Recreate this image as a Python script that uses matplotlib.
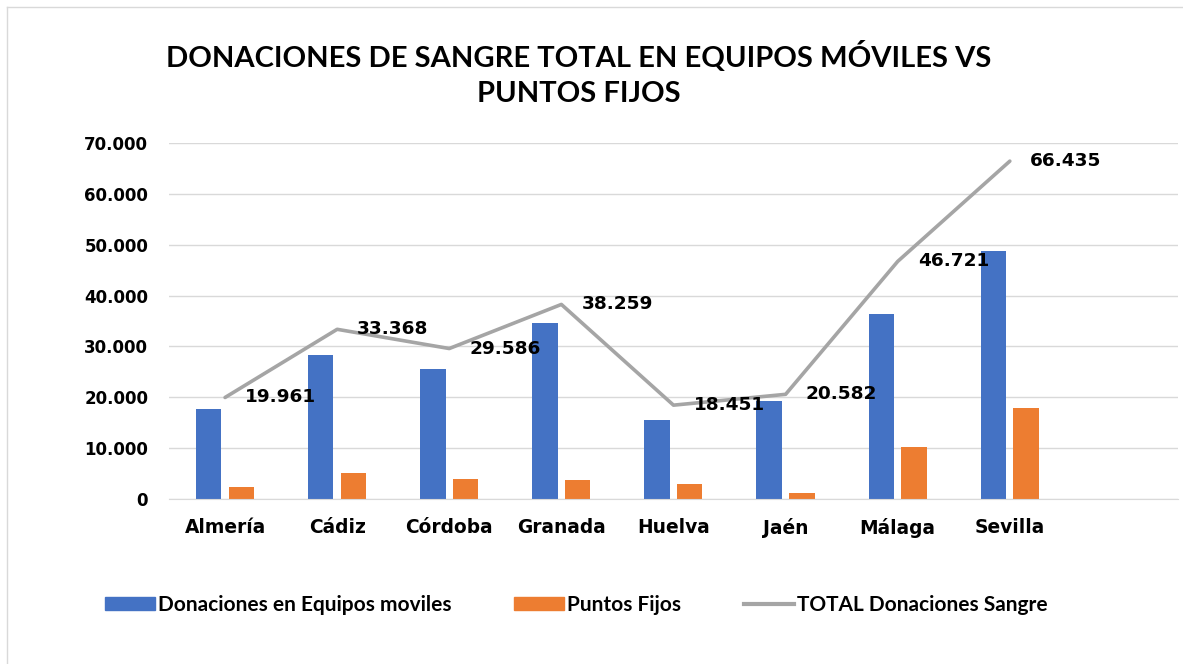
import numpy as np
import matplotlib
matplotlib.use('Agg')
import matplotlib.pyplot as plt
from matplotlib.patches import Patch
from matplotlib.lines import Line2D
from matplotlib.ticker import FuncFormatter

provincias = ['Almería', 'Cádiz', 'Córdoba', 'Granada', 'Huelva', 'Jaén', 'Málaga', 'Sevilla']
moviles = [17600, 28300, 25600, 34600, 15600, 19300, 36400, 48700]
fijos = [2400, 5100, 4000, 3700, 2900, 1200, 10300, 17800]
total = [19961, 33368, 29586, 38259, 18451, 20582, 46721, 66435]
total_txt = ['19.961', '33.368', '29.586', '38.259', '18.451', '20.582', '46.721', '66.435']

azul = '#4472C4'
naranja = '#ED7D31'
gris = '#A5A5A5'

fig = plt.figure(figsize=(11.83, 6.64), dpi=100)
ax = fig.add_axes([169/1183, 1-499/664, (1178-169)/1183, (499-143)/664])

x = np.arange(len(provincias))
w = 0.227
ax.bar(x-0.147, moviles, w, color=azul, zorder=2)
ax.bar(x+0.145, fijos, w, color=naranja, zorder=2)
ax.plot(x, total, color=gris, lw=2.6, solid_capstyle='round', solid_joinstyle='round', zorder=3, clip_on=False)

for xi, yi, t in zip(x, total, total_txt):
    ax.annotate(t, (xi, yi), xytext=(20, 0), textcoords='offset pixels',
                ha='left', va='center', fontsize=13.3, fontweight='bold', color='black',
                family='DejaVu Sans', zorder=4)

ax.set_xlim(-0.5, 8.5)
ax.set_ylim(0, 70000)
ax.set_yticks(np.arange(0, 70001, 10000))
ax.yaxis.set_major_formatter(FuncFormatter(lambda v, p: f'{int(v):,}'.replace(',', '.')))
ax.set_xticks(x)
ax.set_xticklabels(provincias)
ax.tick_params(axis='both', length=0)
ax.tick_params(axis='y', pad=15, labelsize=12)
ax.tick_params(axis='x', pad=14, labelsize=13.4)
for lab in ax.get_xticklabels() + ax.get_yticklabels():
    lab.set_fontweight('bold')
ax.grid(axis='y', color='#D9D9D9', lw=1, zorder=0)
for s in ['top', 'right', 'left']:
    ax.spines[s].set_visible(False)
ax.spines['bottom'].set_color('#D9D9D9')

fig.text(579/1183, 1-74/664, 'DONACIONES DE SANGRE TOTAL EN EQUIPOS MÓVILES VS\nPUNTOS FIJOS',
         ha='center', va='center', fontsize=21, fontweight='bold', family='Lato', linespacing=1.45)

handles = [Patch(color=azul), Patch(color=naranja), Line2D([], [], color=gris, lw=3)]
labels = ['Donaciones en Equipos moviles', 'Puntos Fijos', 'TOTAL Donaciones Sangre']
fig.legend(handles, labels, loc='center', bbox_to_anchor=(576/1183, 1-605/664), ncol=3,
           frameon=False, prop={'family': 'Lato', 'weight': 'bold', 'size': 15},
           handlelength=2.4, handleheight=0.58, handletextpad=0.15, columnspacing=3.0)

fig.add_artist(Line2D([7/1183, 7/1183], [0, 1-7/664], color='#D9D9D9', lw=1))
fig.add_artist(Line2D([7/1183, 1], [1-7/664, 1-7/664], color='#D9D9D9', lw=1))

fig.savefig('out.png', dpi=100)
